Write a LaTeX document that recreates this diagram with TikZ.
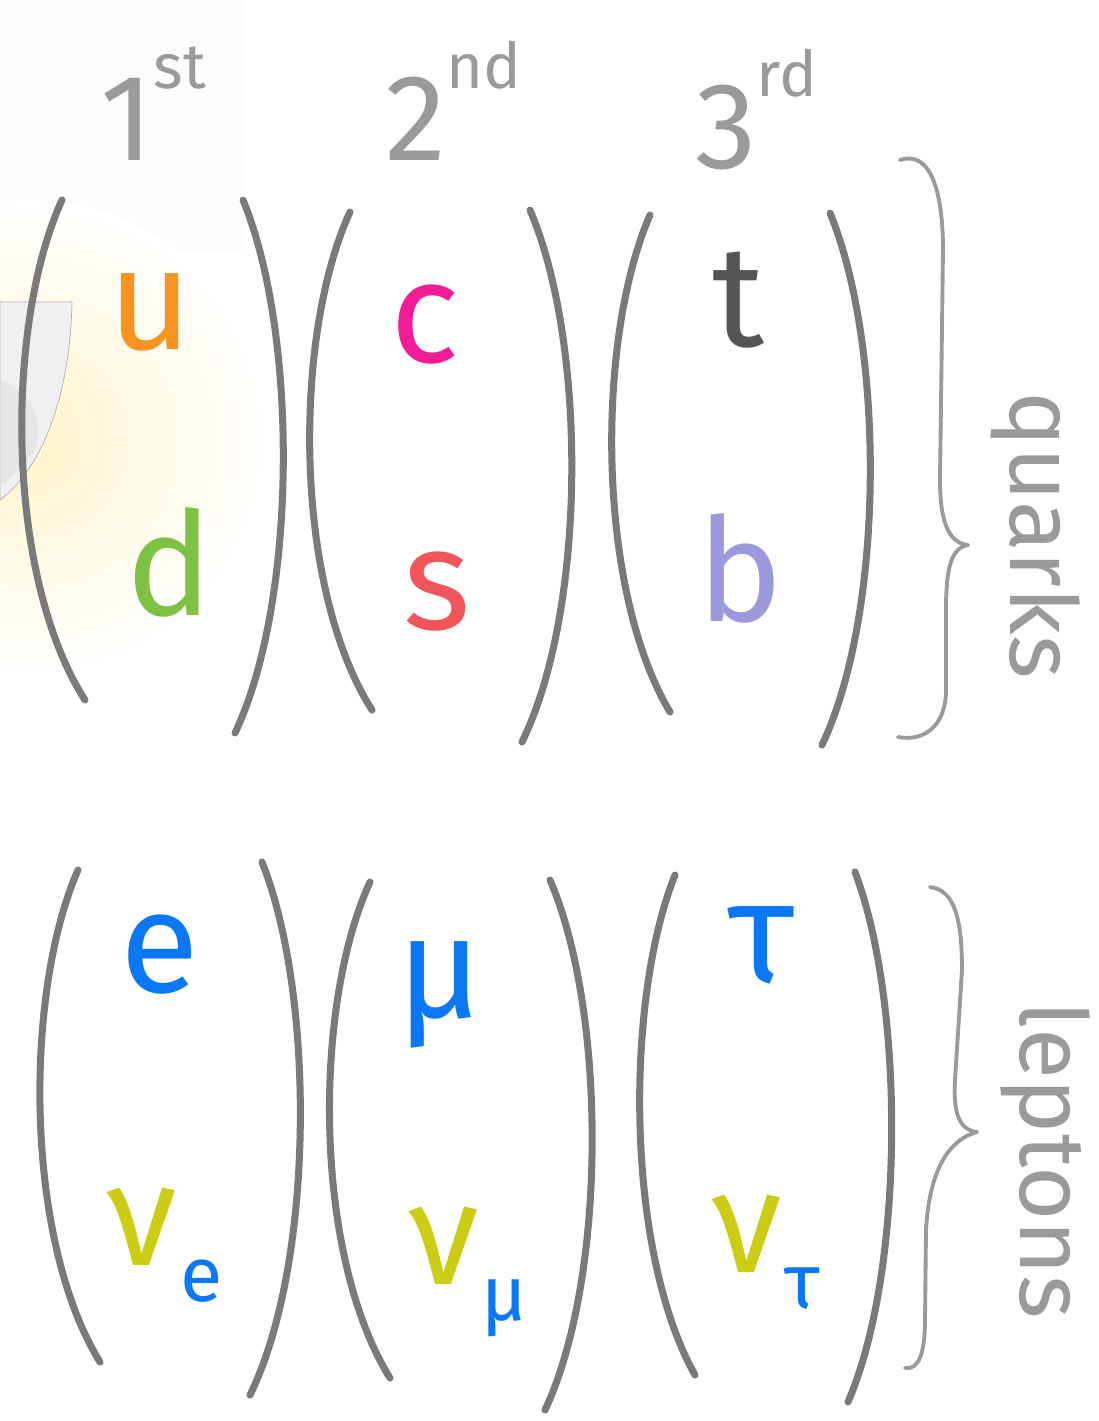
\documentclass[tikz,border=0pt]{standalone}
\usepackage{fontspec}
\setmainfont{Fira Sans}
\usetikzlibrary{positioning}
\definecolor{cParen}{HTML}{7A7A7A}
\definecolor{cLabel}{HTML}{9A9A9A}
\definecolor{cUp}{HTML}{F7931E}
\definecolor{cCharm}{HTML}{F21C99}
\definecolor{cTop}{HTML}{555555}
\definecolor{cDown}{HTML}{7DC242}
\definecolor{cStrange}{HTML}{F0555A}
\definecolor{cBottom}{HTML}{9C98DC}
\definecolor{cLep}{HTML}{0A78F5}
\definecolor{cNu}{HTML}{CCCC14}
\definecolor{cGlow}{HTML}{FFF4CC}
\tikzset{
  paren/.style={draw=cParen, line width=4pt, line cap=round},
  brc/.style={draw=cLabel, line width=2.2pt, line cap=round, line join=round},
  gen/.style={text=cLabel, font=\fontsize{70}{70}\selectfont, inner sep=0pt, anchor=base west},
  flav/.style={font=\fontsize{82}{82}\selectfont, inner sep=0pt},
  grp/.style={text=cLabel, font=\fontsize{53}{53}\selectfont, rotate=-90, inner sep=0pt}
}
\newcommand{\gensup}[2]{#1\raisebox{0.58em}{\fontsize{36}{36}\selectfont #2}}
\newcommand{\nusub}[1]{{\color{cNu}ν}\kern0.02em\raisebox{-0.25em}{\fontsize{44}{44}\selectfont\color{cLep}#1}}
\begin{document}
\begin{tikzpicture}[x=0.02cm, y=-0.02cm]
\useasboundingbox (0,0) rectangle (1099,1421);
% faint background: panel, glow, bowl
\begin{scope}
\clip (0,0) rectangle (1099,1421);
\fill[gray!2] (0,0) rectangle (245,250);
\shade[inner color=cGlow, outer color=white] (30,440) circle (240);
\fill[gray!12, draw=gray!60, thin] (0,302) -- (72,302) .. controls (70,400) and (40,470) .. (0,500) -- cycle;
\fill[gray!25, opacity=0.6] (0,380) .. controls (30,390) and (45,420) .. (35,450) .. controls (20,470) and (10,480) .. (0,485) -- cycle;
\end{scope}
% generation labels
\node[gen] (g1) at (100,160) {\gensup{1}{st}};
\node[gen] (g2) at (385,160) {\gensup{2}{nd}};
\node[gen] (g3) at (695,168) {\gensup{3}{rd}};
% quarks
\node[flav, text=cUp] (u) at (150,312) {u};
\node[flav, text=cCharm] (c) at (425,325) {c};
\node[flav, text=cTop] (t) at (738,300) {t};
\node[flav, text=cDown] (d) at (170,562) {d};
\node[flav, text=cStrange] (s) at (437,592) {s};
\node[flav, text=cBottom] (b) at (740,568) {b};
% leptons
\node[flav, text=cLep] (e) at (160,955) {e};
\node[flav, text=cLep] (mu) at (440,995) {μ};
\node[flav, text=cLep] (tau) at (762,945) {τ};
\node[flav] (nue) at (165,1245) {\nusub{e}};
\node[flav] (numu) at (468,1272) {\nusub{μ}};
\node[flav] (nutau) at (766,1252) {\nusub{τ}};
% quark brackets
\draw[paren] (62,200) .. controls (5,325) and (5,575) .. (85,700);
\draw[paren] (243,200) .. controls (298,333) and (298,600) .. (235,733);
\draw[paren] (350,212) .. controls (293,336) and (293,586) .. (372,710);
\draw[paren] (530,210) .. controls (587,343) and (587,609) .. (522,742);
\draw[paren] (650,215) .. controls (596,339) and (596,588) .. (670,712);
\draw[paren] (830,213) .. controls (885,346) and (885,612) .. (822,745);
% lepton brackets
\draw[paren] (78,870) .. controls (24,993) and (24,1239) .. (100,1362);
\draw[paren] (262,862) .. controls (315,995) and (315,1262) .. (250,1395);
\draw[paren] (370,882) .. controls (313,1006) and (313,1254) .. (390,1378);
\draw[paren] (550,880) .. controls (607,1012) and (607,1278) .. (545,1410);
\draw[paren] (675,875) .. controls (625,1000) and (625,1250) .. (695,1375);
\draw[paren] (855,872) .. controls (905,1004) and (905,1270) .. (848,1402);
% braces
\draw[brc] (900,160) .. controls (930,150) and (943,190) .. (943,250) -- (940,480)
  .. controls (940,525) and (950,543) .. (968,545)
  .. controls (952,548) and (946,565) .. (946,610) -- (946,690)
  .. controls (946,725) and (925,742) .. (898,737);
\draw[brc] (930,887) .. controls (955,890) and (962,920) .. (962,970) -- (955,1080)
  .. controls (953,1115) and (960,1130) .. (977,1132)
  .. controls (955,1138) and (930,1160) .. (926,1230) -- (925,1320)
  .. controls (925,1355) and (918,1370) .. (905,1368);
\node[grp] (qlbl) at (1035,535) {quarks};
\node[grp] (llbl) at (1045,1160) {leptons};
\end{tikzpicture}
\end{document}
